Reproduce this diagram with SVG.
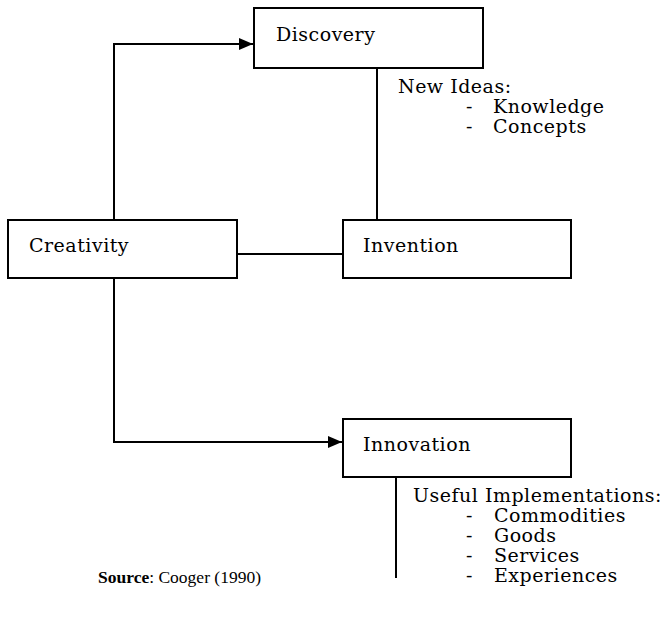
<svg xmlns="http://www.w3.org/2000/svg" width="672" height="622" viewBox="0 0 672 622">
<defs>
<marker id="arr" markerWidth="14" markerHeight="12" refX="14" refY="6" orient="auto" markerUnits="userSpaceOnUse" viewBox="0 0 14 12">
<path d="M0,0 L14,6 L0,12 z" fill="#000"/>
</marker>
<style>
.box{fill:#fff;stroke:#000;stroke-width:2}
.t{font-family:"DejaVu Serif","Liberation Serif",serif;font-size:19px;letter-spacing:0.5px;fill:#000}
.s{font-family:"Liberation Serif","DejaVu Serif",serif;font-size:17.5px;fill:#000}
.c{fill:none;stroke:#000;stroke-width:2}
</style>
</defs>
<rect width="672" height="622" fill="#fff"/>
<g id="connectors">
<polyline class="c" points="114,220 114,44 253,44" marker-end="url(#arr)"/>
<line class="c" x1="377" y1="68" x2="377" y2="220"/>
<line class="c" x1="237" y1="254" x2="343" y2="254" stroke-width="1.5"/>
<polyline class="c" points="114,278 114,442 342,442" marker-end="url(#arr)"/>
<line class="c" x1="396" y1="477" x2="396" y2="578"/>
</g>
<g id="discovery">
<rect class="box" x="254" y="8" width="229" height="60"/>
<text class="t" x="276" y="41">Discovery</text>
</g>
<g id="creativity">
<rect class="box" x="8" y="220" width="229" height="58"/>
<text class="t" x="29" y="252">Creativity</text>
</g>
<g id="invention">
<rect class="box" x="343" y="220" width="228" height="58"/>
<text class="t" x="363" y="252">Invention</text>
</g>
<g id="innovation">
<rect class="box" x="343" y="419" width="228" height="58"/>
<text class="t" x="363" y="451">Innovation</text>
</g>
<g id="new-ideas">
<text class="t" x="398" y="93">New Ideas:</text>
<text class="t" x="466" y="113">-</text>
<text class="t" x="493" y="113">Knowledge</text>
<text class="t" x="466" y="133">-</text>
<text class="t" x="493" y="133">Concepts</text>
</g>
<g id="useful">
<text class="t" x="413" y="502">Useful Implementations:</text>
<text class="t" x="466" y="522">-</text>
<text class="t" x="494" y="522">Commodities</text>
<text class="t" x="466" y="542">-</text>
<text class="t" x="494" y="542">Goods</text>
<text class="t" x="466" y="562">-</text>
<text class="t" x="494" y="562">Services</text>
<text class="t" x="466" y="582">-</text>
<text class="t" x="494" y="582">Experiences</text>
</g>
<g id="source">
<text class="s" x="98" y="583"><tspan font-weight="bold">Source</tspan>: Cooger (1990)</text>
</g>
</svg>
